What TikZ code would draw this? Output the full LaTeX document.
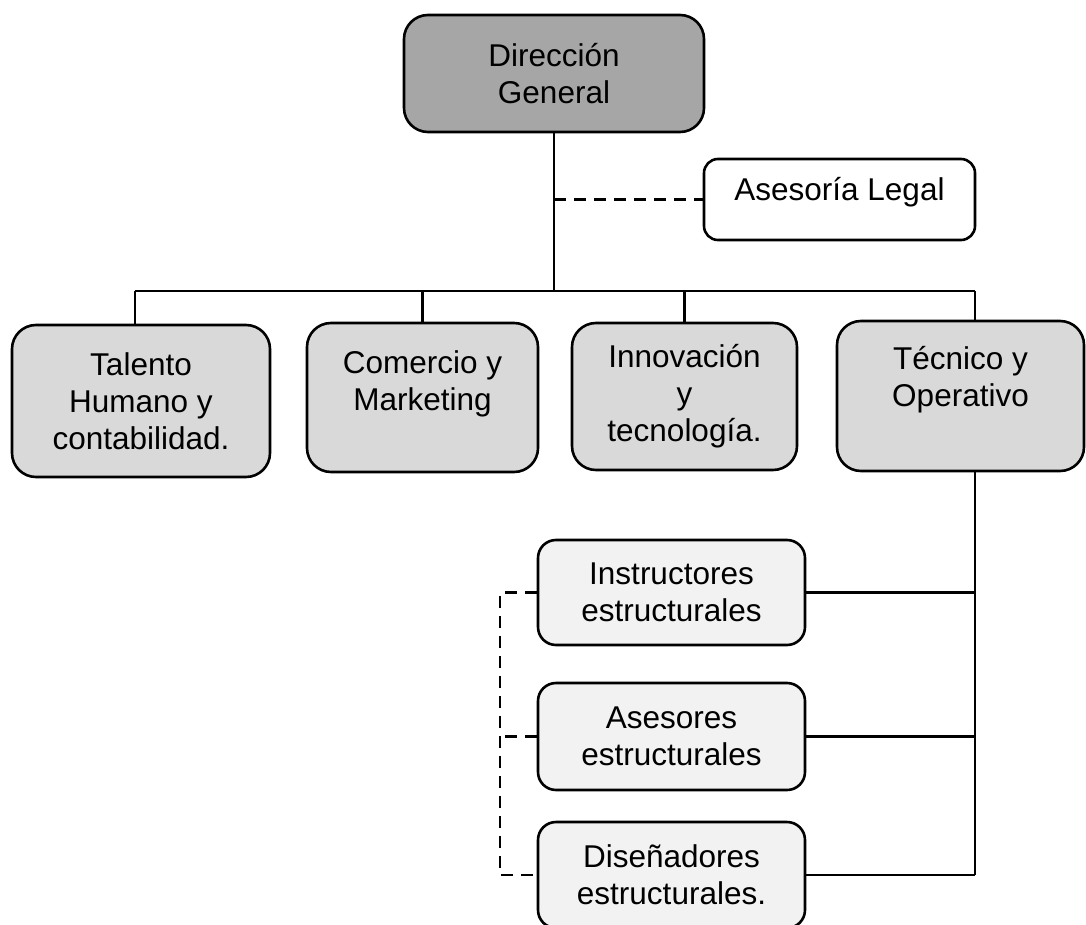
\documentclass[tikz,border=0pt]{standalone}
\usepackage{fontspec}
\setmainfont{Liberation Sans}
\definecolor{dgfill}{HTML}{A6A6A6}
\definecolor{l2fill}{HTML}{D9D9D9}
\definecolor{l3fill}{HTML}{F2F2F2}
\begin{document}
\begin{tikzpicture}[x=1pt,y=-1pt,
  box/.style={draw=black, line width=2.6pt, rounded corners=24pt, align=center,
    font=\fontsize{31.5}{37}\selectfont, inner sep=0pt},
  conn/.style={line width=2.4pt},
  dconn/.style={line width=2.4pt, dash pattern=on 12pt off 8pt}]
\useasboundingbox[fill=white] (0,0) rectangle (1086,925);
\node[box, fill=dgfill, minimum width=300pt, minimum height=117pt] (dg) at (554,73.5) {Dirección\\General};
\node[box, fill=white, rounded corners=14pt, minimum width=271pt, minimum height=81pt] (al) at (839.5,199.5) {Asesoría Legal\\[-16pt]};
\node[box, fill=l2fill, minimum width=258pt, minimum height=152pt] (tal) at (141,401) {Talento\\Humano y\\contabilidad.};
\node[box, fill=l2fill, minimum width=231pt, minimum height=149pt] (com) at (422.5,397.5) {Comercio y\\Marketing\\[-3pt]};
\node[box, fill=l2fill, minimum width=225pt, minimum height=147pt] (inn) at (684.5,396.5) {Innovación\\y\\tecnología.};
\node[box, fill=l2fill, minimum width=247pt, minimum height=150pt] (tec) at (960.5,396) {Técnico y\\Operativo\\[3pt]};
\node[box, fill=l3fill, rounded corners=18pt, minimum width=267pt, minimum height=105pt] (ins) at (671.5,592.5) {Instructores\\estructurales};
\node[box, fill=l3fill, rounded corners=18pt, minimum width=267pt, minimum height=107pt] (ase) at (671.5,736.5) {Asesores\\estructurales};
\node[box, fill=l3fill, rounded corners=18pt, minimum width=267pt, minimum height=106pt] (dis) at (671.5,875) {Diseñadores\\estructurales.};
\coordinate (bL) at (135,291);
\coordinate (bR) at (975,291);
\coordinate (dl) at (500,0);
\draw[conn] (dg.south) -- (dg.south |- bL);
\draw[conn] (bL) -- (bR);
\draw[conn] (bL) -- (bL |- tal.north);
\draw[conn] (com.north |- bL) -- (com.north);
\draw[conn] (inn.north |- bL) -- (inn.north);
\draw[conn] (bR) -- (bR |- tec.north);
\draw[dconn] (dg.south |- al.west) -- (al.west);
\draw[conn] (bR |- tec.south) -- (bR |- dis.east);
\draw[conn] (ins.east) -- (ins.east -| bR);
\draw[conn] (ase.east) -- (ase.east -| bR);
\draw[conn] (dis.east) -- (dis.east -| bR);
\draw[dconn] (ins.west) -- (ins.west -| dl) -- (dis.west -| dl) -- (dis.west);
\draw[dconn] (ase.west) -- (ase.west -| dl);
\end{tikzpicture}
\end{document}
